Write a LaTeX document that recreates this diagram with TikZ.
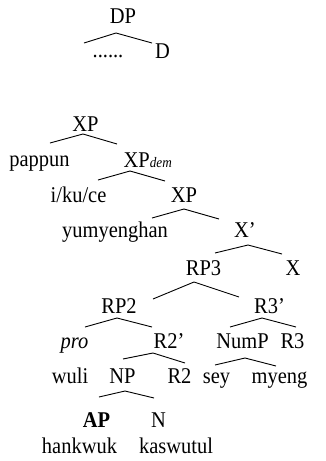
\documentclass[tikz,border=0pt]{standalone}
\usepackage{fontspec}
\setmainfont{Liberation Serif}[FakeStretch=0.91]
\begin{document}
\begin{tikzpicture}[x=1pt,y=-1pt,
  lbl/.style={inner sep=0pt,anchor=base,font=\fontsize{22.5}{26}\selectfont},
  roof/.style={line width=0.9pt,line join=round}]
\useasboundingbox (0,0) rectangle (325,461);

% ---- upper tree: DP ----
\node[lbl] (dp) at (123,23) {DP};
\node[lbl] (dots) at (108,57) {......};
\node[lbl] (d) at (162.5,58) {D};
\coordinate (dp-l) at (84,43);  \coordinate (dp-a) at (116,33);  \coordinate (dp-r) at (152,43);
\draw[roof] (dp-l) -- (dp-a) -- (dp-r);

% ---- lower tree ----
\node[lbl] (xp1) at (85.5,131) {XP};
\node[lbl] (pappun) at (39.5,166) {pappun};
\node[lbl,anchor=base west] (xpdem) at (123.5,167) {XP{\fontsize{14.5}{16}\selectfont\itshape dem}};
\node[lbl] (ikuce) at (78.5,202) {i/ku/ce};
\node[lbl] (xp2) at (184,202) {XP};
\node[lbl] (yum) at (115,237) {yumyenghan};
\node[lbl] (xbar) at (245,237) {X’};
\node[lbl] (rp3) at (203.5,275) {RP3};
\node[lbl] (x) at (293,275) {X};
\node[lbl] (rp2) at (119,313) {RP2};
\node[lbl] (r3bar) at (269.5,313) {R3’};
\node[lbl] (pro) at (74.5,348) {\itshape pro};
\node[lbl] (r2bar) at (169,348) {R2’};
\node[lbl] (nump) at (242.5,348) {NumP};
\node[lbl] (r3) at (292.5,348) {R3};
\node[lbl] (wuli) at (70,383) {wuli};
\node[lbl] (np) at (122.5,383) {NP};
\node[lbl] (r2) at (179.5,383) {R2};
\node[lbl] (sey) at (216.5,383) {sey};
\node[lbl] (myeng) at (279.5,383) {myeng};
\node[lbl] (ap) at (96.5,427) {\bfseries AP};
\node[lbl] (n) at (158.5,427) {N};
\node[lbl] (hankwuk) at (79.5,453) {hankwuk};
\node[lbl] (kaswutul) at (176,453) {kaswutul};

% roofs: left end, apex, right end
\coordinate (xp1-l) at (50,143);   \coordinate (xp1-a) at (83,134);   \coordinate (xp1-r) at (117,144);
\coordinate (xpd-l) at (98,180);   \coordinate (xpd-a) at (130,171);  \coordinate (xpd-r) at (165,181);
\coordinate (xp2-l) at (152,218);  \coordinate (xp2-a) at (184,209);  \coordinate (xp2-r) at (219,219);
\coordinate (xb-l) at (215,253);   \coordinate (xb-a) at (248,245);   \coordinate (xb-r) at (282,254);
\coordinate (rp3-l) at (153,299);  \coordinate (rp3-a) at (194,282);  \coordinate (rp3-r) at (239,297);
\coordinate (rp2-l) at (85,327);   \coordinate (rp2-a) at (117,318);  \coordinate (rp2-r) at (152,327);
\coordinate (r3b-l) at (230,327);  \coordinate (r3b-a) at (262,318);  \coordinate (r3b-r) at (296,327);
\coordinate (r2b-l) at (123,359);  \coordinate (r2b-a) at (153,353);  \coordinate (r2b-r) at (185,363);
\coordinate (nump-l) at (215,365); \coordinate (nump-a) at (245,358); \coordinate (nump-r) at (276,366);
\coordinate (np-l) at (99,397);    \coordinate (np-a) at (125,391);   \coordinate (np-r) at (154,398);

\foreach \r in {xp1,xpd,xp2,xb,rp3,rp2,r3b,r2b,nump,np}
  \draw[roof] (\r-l) -- (\r-a) -- (\r-r);
\end{tikzpicture}
\end{document}
